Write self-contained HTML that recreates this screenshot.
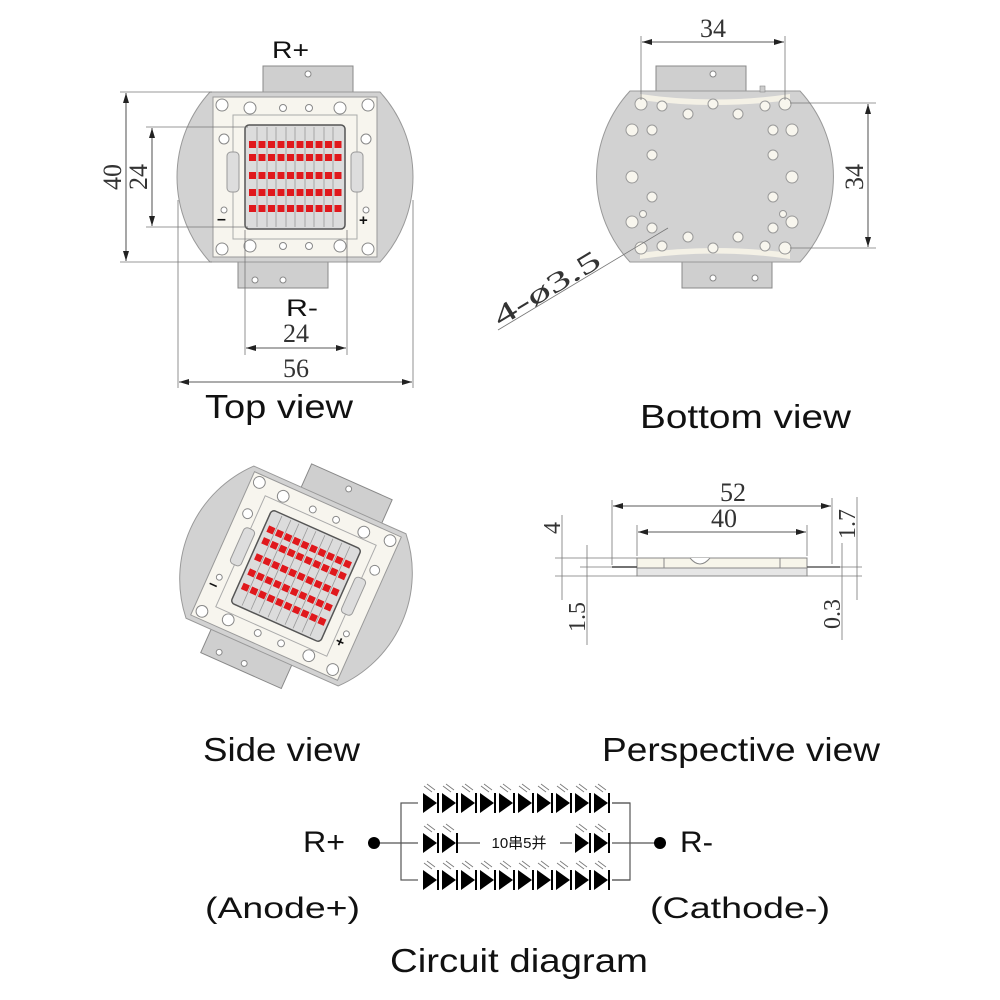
<!DOCTYPE html>
<html><head><meta charset="utf-8"><style>
html,body{margin:0;padding:0;background:#fff;}
svg{display:block;}
.s{font-family:"Liberation Sans","Noto Sans CJK SC",sans-serif;fill:#111;}
.r{font-family:"Liberation Serif",serif;fill:#333;}
</style></head><body>
<svg width="1000" height="1000" viewBox="0 0 1000 1000" xmlns="http://www.w3.org/2000/svg">
<defs>
<marker id="a" viewBox="0 0 10 6" refX="10" refY="3" markerWidth="10" markerHeight="6" orient="auto-start-reverse" markerUnits="userSpaceOnUse"><path d="M0 0L10 3L0 6z" fill="#222"/></marker>
<g id="chip">
  <rect x="-32" y="-111" width="90" height="27" fill="#cfcfcf" stroke="#888" stroke-width="1"/>
  <rect x="-57" y="84" width="90" height="27" fill="#cfcfcf" stroke="#888" stroke-width="1"/>
  <circle cx="13" cy="-103" r="3" fill="#fff" stroke="#888"/>
  <circle cx="-40" cy="103" r="3" fill="#fff" stroke="#888"/>
  <circle cx="-12" cy="103" r="3" fill="#fff" stroke="#888"/>
  <path d="M-85 -85 L85 -85 A126 126 0 0 1 85 85 L-85 85 A126 126 0 0 1 -85 -85Z" fill="#d2d2d2" stroke="#999"/>
  <rect x="-82" y="-80" width="164" height="160" fill="#f7f5ee" stroke="#999"/>
  <rect x="-62" y="-62" width="124" height="124" fill="none" stroke="#aaa"/>
  <rect x="-68" y="-25" width="12" height="40" rx="4" fill="#ddd" stroke="#999"/>
  <rect x="56" y="-25" width="12" height="40" rx="4" fill="#ddd" stroke="#999"/>
  <rect x="-50" y="-52" width="100" height="104" rx="4" fill="#dcdcdc" stroke="#555" stroke-width="1.5"/>
  <g stroke="#999" stroke-width="0.8">
   <line x1="-38" y1="-50" x2="-38" y2="50"/><line x1="-28" y1="-50" x2="-28" y2="50"/><line x1="-19" y1="-50" x2="-19" y2="50"/><line x1="-9" y1="-50" x2="-9" y2="50"/><line x1="0" y1="-50" x2="0" y2="50"/><line x1="10" y1="-50" x2="10" y2="50"/><line x1="19" y1="-50" x2="19" y2="50"/><line x1="29" y1="-50" x2="29" y2="50"/><line x1="38" y1="-50" x2="38" y2="50"/>
  </g>
  <g fill="#e0181c" id="rows">
   <g id="row"><rect x="-46" y="-36" width="7" height="7"/><rect x="-36.5" y="-36" width="7" height="7"/><rect x="-27" y="-36" width="7" height="7"/><rect x="-17.5" y="-36" width="7" height="7"/><rect x="-8" y="-36" width="7" height="7"/><rect x="1.5" y="-36" width="7" height="7"/><rect x="11" y="-36" width="7" height="7"/><rect x="20.5" y="-36" width="7" height="7"/><rect x="30" y="-36" width="7" height="7"/><rect x="39.5" y="-36" width="7" height="7"/></g>
   <use href="#row" y="13"/><use href="#row" y="31"/><use href="#row" y="48"/><use href="#row" y="64"/>
  </g>
  <g fill="#fff" stroke="#888">
   <circle cx="-73" cy="-72" r="6"/><circle cx="73" cy="-72" r="6"/><circle cx="-73" cy="72" r="6"/><circle cx="73" cy="72" r="6"/>
   <circle cx="-45" cy="-69" r="6"/><circle cx="45" cy="-69" r="6"/><circle cx="-45" cy="69" r="6"/><circle cx="45" cy="69" r="6"/>
   <circle cx="-12" cy="-69" r="3.5"/><circle cx="14" cy="-69" r="3.5"/><circle cx="-12" cy="69" r="3.5"/><circle cx="14" cy="69" r="3.5"/>
   <circle cx="-71" cy="-38" r="5"/><circle cx="71" cy="-38" r="5"/><circle cx="-71" cy="33" r="3"/><circle cx="71" cy="33" r="3"/>
  </g>
  <text x="-78" y="47" class="s" font-size="16" font-weight="bold">–</text>
  <text x="64" y="48" class="s" font-size="15" font-weight="bold">+</text>
</g>
</defs>

<!-- TOP VIEW -->
<use href="#chip" x="295" y="177"/>
<g stroke="#777" stroke-width="0.8" fill="none">
 <line x1="120" y1="92" x2="212" y2="92"/><line x1="120" y1="262" x2="212" y2="262"/>
 <line x1="146" y1="127" x2="248" y2="127"/><line x1="146" y1="227" x2="248" y2="227"/>
 <line x1="178" y1="200" x2="178" y2="388"/><line x1="413" y1="200" x2="413" y2="388"/>
 <line x1="245" y1="230" x2="245" y2="355"/><line x1="347" y1="230" x2="347" y2="355"/>
</g>
<g stroke="#222" stroke-width="0.8" marker-start="url(#a)" marker-end="url(#a)">
 <line x1="126" y1="93" x2="126" y2="261"/>
 <line x1="152" y1="128" x2="152" y2="226"/>
 <line x1="246" y1="348" x2="346" y2="348"/>
 <line x1="179" y1="382" x2="412" y2="382"/>
</g>
<text class="r" font-size="26" transform="translate(126,177) rotate(-90)" text-anchor="middle" dy="-5">40</text>
<text class="r" font-size="26" transform="translate(152,177) rotate(-90)" text-anchor="middle" dy="-5">24</text>
<text class="r" x="296" y="342" font-size="26" text-anchor="middle">24</text>
<text class="r" x="296" y="377" font-size="26" text-anchor="middle">56</text>
<text class="s" x="272" y="58" font-size="24" textLength="37" lengthAdjust="spacingAndGlyphs">R+</text>
<text class="s" x="286" y="316" font-size="24" textLength="32" lengthAdjust="spacingAndGlyphs">R-</text>
<text class="s" x="205" y="418" font-size="33" textLength="148" lengthAdjust="spacingAndGlyphs">Top view</text>

<!-- BOTTOM VIEW -->
<g>
 <rect x="656" y="66" width="90" height="26" fill="#cfcfcf" stroke="#888"/>
 <circle cx="713" cy="74" r="3" fill="#fff" stroke="#888"/>
 <rect x="682" y="262" width="90" height="26" fill="#cfcfcf" stroke="#888"/>
 <circle cx="713" cy="278" r="3" fill="#fff" stroke="#888"/><circle cx="755" cy="278" r="3" fill="#fff" stroke="#888"/>
 <path d="M630 91 L800 91 A126 126 0 0 1 800 262 L630 262 A126 126 0 0 1 630 91Z" fill="#d2d2d2" stroke="#999"/>
 <path d="M640 94 Q715 105 790 94 L790 100 Q715 110 640 100Z" fill="#f4f1e6"/>
 <path d="M640 259 Q715 248 790 259 L790 253 Q715 243 640 253Z" fill="#f4f1e6"/>
 <g fill="#f8f6ee" stroke="#999">
  <circle cx="641" cy="104" r="6"/><circle cx="785" cy="104" r="6"/><circle cx="641" cy="248" r="6"/><circle cx="785" cy="248" r="6"/>
  <circle cx="632" cy="130" r="6"/><circle cx="792" cy="130" r="6"/><circle cx="632" cy="177" r="6"/><circle cx="792" cy="177" r="6"/><circle cx="632" cy="222" r="6"/><circle cx="792" cy="222" r="6"/>
  <circle cx="662" cy="106" r="5"/><circle cx="765" cy="106" r="5"/><circle cx="662" cy="246" r="5"/><circle cx="765" cy="246" r="5"/>
  <circle cx="713" cy="104" r="5"/><circle cx="713" cy="248" r="5"/>
  <circle cx="688" cy="114" r="5"/><circle cx="738" cy="114" r="5"/><circle cx="688" cy="237" r="5"/><circle cx="738" cy="237" r="5"/>
  <circle cx="652" cy="130" r="5"/><circle cx="773" cy="130" r="5"/><circle cx="652" cy="155" r="5"/><circle cx="773" cy="155" r="5"/><circle cx="652" cy="197" r="5"/><circle cx="773" cy="197" r="5"/><circle cx="652" cy="228" r="5"/><circle cx="773" cy="228" r="5"/>
  <circle cx="643" cy="214" r="3.5"/><circle cx="783" cy="214" r="3.5"/>
 </g>
 <rect x="760" y="86" width="5" height="6" fill="#ccc" stroke="#888" stroke-width="0.6"/>
</g>
<g stroke="#777" stroke-width="0.8">
 <line x1="641" y1="36" x2="641" y2="100"/><line x1="785" y1="36" x2="785" y2="100"/>
 <line x1="790" y1="103" x2="876" y2="103"/><line x1="790" y1="248" x2="876" y2="248"/>
 <line x1="498" y1="330" x2="668" y2="228"/>
</g>
<g stroke="#222" stroke-width="0.8" marker-start="url(#a)" marker-end="url(#a)">
 <line x1="642" y1="42" x2="784" y2="42"/>
 <line x1="868" y1="104" x2="868" y2="247"/>
</g>
<text class="r" x="713" y="37" font-size="26" text-anchor="middle">34</text>
<text class="r" font-size="26" transform="translate(868,177) rotate(-90)" text-anchor="middle" dy="-5">34</text>
<text class="r" font-size="28" transform="translate(500,327) rotate(-31)" textLength="120" lengthAdjust="spacingAndGlyphs">4-ø3.5</text>
<text class="s" x="640" y="428" font-size="33" textLength="211" lengthAdjust="spacingAndGlyphs">Bottom view</text>

<!-- SIDE VIEW (rotated chip) -->
<use href="#chip" transform="translate(296,576) rotate(24) scale(0.98)"/>
<text class="s" x="203" y="761" font-size="33" textLength="157" lengthAdjust="spacingAndGlyphs">Side view</text>

<!-- PERSPECTIVE / PROFILE -->
<g>
 <rect x="637" y="558" width="170" height="10" fill="#f7f5ea" stroke="#888"/>
 <rect x="637" y="568" width="170" height="8" fill="#e6e6e6" stroke="#888"/>
 <line x1="664" y1="558" x2="664" y2="568" stroke="#888"/><line x1="780" y1="558" x2="780" y2="568" stroke="#888"/>
 <path d="M690 558 Q700 570 710 558" fill="#fff" stroke="#888"/>
 <line x1="612" y1="567" x2="637" y2="567" stroke="#444" stroke-width="1.5"/>
 <line x1="807" y1="567" x2="840" y2="567" stroke="#444" stroke-width="1.5"/>
</g>
<g stroke="#777" stroke-width="0.8">
 <line x1="612" y1="500" x2="612" y2="565"/><line x1="832" y1="498" x2="832" y2="564"/>
 <line x1="637" y1="525" x2="637" y2="556"/><line x1="807" y1="525" x2="807" y2="556"/>
 <line x1="555" y1="558" x2="637" y2="558"/><line x1="580" y1="567" x2="612" y2="567"/><line x1="555" y1="576" x2="637" y2="576"/>
 <line x1="807" y1="567" x2="862" y2="567"/><line x1="807" y1="576" x2="862" y2="576"/>
 <line x1="562" y1="515" x2="562" y2="600"/><line x1="587" y1="545" x2="587" y2="645"/>
 <line x1="842" y1="543" x2="842" y2="640"/><line x1="857" y1="497" x2="857" y2="600"/>
</g>
<g stroke="#222" stroke-width="0.8" marker-start="url(#a)" marker-end="url(#a)">
 <line x1="613" y1="506" x2="831" y2="506"/>
 <line x1="638" y1="532" x2="806" y2="532"/>
</g>
<text class="r" x="733" y="501" font-size="26" text-anchor="middle">52</text>
<text class="r" x="724" y="527" font-size="26" text-anchor="middle">40</text>
<text class="r" font-size="24" transform="translate(560,528) rotate(-90)" text-anchor="middle">4</text>
<text class="r" font-size="24" transform="translate(585,617) rotate(-90)" text-anchor="middle">1.5</text>
<text class="r" font-size="24" transform="translate(840,614) rotate(-90)" text-anchor="middle">0.3</text>
<text class="r" font-size="24" transform="translate(855,524) rotate(-90)" text-anchor="middle">1.7</text>
<text class="s" x="602" y="761" font-size="33" textLength="278" lengthAdjust="spacingAndGlyphs">Perspective view</text>

<!-- CIRCUIT -->
<g stroke="#555" stroke-width="1.2" fill="none">
 <rect x="401" y="803" width="229" height="77"/>
 <line x1="374" y1="843" x2="480" y2="843"/><line x1="560" y1="843" x2="660" y2="843"/>
</g>
<g fill="#fff"><rect x="418" y="790" width="194" height="26"/><rect x="418" y="867" width="194" height="26"/><rect x="418" y="830" width="40" height="26"/><rect x="572" y="830" width="40" height="26"/></g>
<g id="d1" fill="#000">
 <path d="M423 793 L437 803 L423 813Z"/><rect x="437" y="793" width="2" height="20"/>
 <path d="M424 786 L432 792 M427 784 L435 790" stroke="#777" stroke-width="0.8"/>
</g>
<g fill="#000">
 <use href="#d1" x="19"/><use href="#d1" x="38"/><use href="#d1" x="57"/><use href="#d1" x="76"/><use href="#d1" x="95"/><use href="#d1" x="114"/><use href="#d1" x="133"/><use href="#d1" x="152"/><use href="#d1" x="171"/>
 <use href="#d1" y="77"/><use href="#d1" x="19" y="77"/><use href="#d1" x="38" y="77"/><use href="#d1" x="57" y="77"/><use href="#d1" x="76" y="77"/><use href="#d1" x="95" y="77"/><use href="#d1" x="114" y="77"/><use href="#d1" x="133" y="77"/><use href="#d1" x="152" y="77"/><use href="#d1" x="171" y="77"/>
 <use href="#d1" y="40"/><use href="#d1" x="19" y="40"/><use href="#d1" x="152" y="40"/><use href="#d1" x="171" y="40"/>
</g>
<line x1="612" y1="803" x2="630" y2="803" stroke="#555" stroke-width="1.2"/>
<line x1="612" y1="880" x2="630" y2="880" stroke="#555" stroke-width="1.2"/>
<text class="s" x="519" y="848" font-size="15" text-anchor="middle">10串5并</text>
<circle cx="374" cy="843" r="6" fill="#000"/><circle cx="660" cy="843" r="6" fill="#000"/>
<text class="s" x="303" y="852" font-size="30" textLength="42" lengthAdjust="spacingAndGlyphs">R+</text>
<text class="s" x="680" y="852" font-size="30" textLength="33" lengthAdjust="spacingAndGlyphs">R-</text>
<text class="s" x="205" y="918" font-size="30" textLength="155" lengthAdjust="spacingAndGlyphs">(Anode+)</text>
<text class="s" x="650" y="918" font-size="30" textLength="180" lengthAdjust="spacingAndGlyphs">(Cathode-)</text>
<text class="s" x="390" y="972" font-size="33" textLength="258" lengthAdjust="spacingAndGlyphs">Circuit diagram</text>
</svg>
</body></html>
